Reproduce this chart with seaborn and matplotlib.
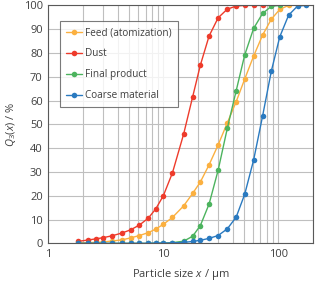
import numpy as np
import pandas as pd
import matplotlib
matplotlib.use("Agg")
import matplotlib.pyplot as plt
import seaborn as sns
from matplotlib.ticker import LogLocator, FixedLocator, NullFormatter

# --- DATA ---
sizes = [1.8, 2.2, 2.6, 3.0, 3.6, 4.4, 5.2, 6.2, 7.4, 8.6, 10, 12, 15, 18, 21,
         25, 30, 36, 43, 51, 61, 73, 87, 103, 123, 147, 175]

feed = [0.2, 0.3, 0.4, 0.6, 1.0, 1.5, 2.3, 3.3, 4.5, 6.0, 8.0, 10.9, 15.7, 21.0,
        25.8, 33.0, 41.4, 50.6, 59.5, 69.0, 78.7, 87.5, 94.2, 98.3, 100.0]
dust = [0.8, 1.4, 1.9, 2.4, 3.2, 4.4, 5.7, 7.7, 10.6, 14.5, 20.0, 29.6, 45.8,
        61.6, 74.9, 87.1, 94.8, 98.4, 99.7, 100.0, 100.0, 100.0, 100.0]
final = [0.0, 0.0, 0.0, 0.0, 0.0, 0.0, 0.0, 0.0, 0.0, 0.1, 0.1, 0.3, 0.9, 3.0,
         7.5, 16.5, 30.8, 48.3, 64.1, 79.1, 90.3, 96.6, 99.6, 100.0]
coarse = [0.0, 0.0, 0.0, 0.0, 0.0, 0.0, 0.0, 0.0, 0.0, 0.1, 0.1, 0.2, 0.4, 0.8,
          1.3, 2.1, 3.3, 6.1, 11.0, 20.6, 35.0, 53.5, 72.4, 86.8, 95.9, 99.7, 100.0]

series_names = ["Feed (atomization)", "Dust", "Final product", "Coarse material"]
series_values = [feed, dust, final, coarse]
colors = ["#FBB040", "#EE3B2B", "#4CB35E", "#2A7AC0"]

y_ticks = list(range(0, 101, 10))
x_ticks = [1, 10, 100]

# long-form table for seaborn
frames = []
for name, vals in zip(series_names, series_values):
    frames.append(pd.DataFrame({"size": sizes[:len(vals)], "Q3": vals, "series": name}))
df = pd.concat(frames, ignore_index=True)

sns.set_style("white")
plt.rcParams["font.family"] = ["Open Sans", "DejaVu Sans"]
plt.rcParams["mathtext.fontset"] = "custom"
plt.rcParams["mathtext.rm"] = "Open Sans"
plt.rcParams["mathtext.it"] = "Open Sans:italic"

fig = plt.figure(figsize=(3.18, 2.82), dpi=100)
ax = fig.add_axes([0.152, 0.137, 0.832, 0.844])

sns.lineplot(data=df, x="size", y="Q3", hue="series", hue_order=series_names,
             palette=colors, marker="o", markersize=4, markeredgewidth=0,
             linewidth=1.0, ax=ax, sort=False)

ax.set_xscale("log")
ax.set_xlim(1, 200)
ax.set_ylim(0, 100)
ax.set_yticks(y_ticks)
ax.xaxis.set_major_locator(FixedLocator(x_ticks))
ax.set_xticklabels([str(t) for t in x_ticks])
ax.xaxis.set_minor_locator(LogLocator(base=10, subs=np.arange(2, 10)))
ax.xaxis.set_minor_formatter(NullFormatter())

grid_col = "#BFBFBF"
ax.grid(True, which="major", axis="both", color=grid_col, linewidth=0.8)
ax.grid(True, which="minor", axis="x", color=grid_col, linewidth=0.8)
ax.set_axisbelow(True)

for s in ax.spines.values():
    s.set_color("#595959")
    s.set_linewidth(0.8)

ax.tick_params(axis="both", which="both", length=0, labelsize=8,
               labelcolor="#404040", pad=4)

ax.set_xlabel("Particle size $x$ / µm", fontsize=8, color="#404040", labelpad=5)
ax.set_ylabel("$Q_3(x)$ / %", fontsize=8, color="#404040", labelpad=4)

leg = ax.legend(loc="upper left", bbox_to_anchor=(0.044, 0.934), fontsize=7.2,
                frameon=True, fancybox=False, handlelength=1.6, handletextpad=0.3,
                labelspacing=1.0, borderpad=0.6, borderaxespad=0, title=None)
leg.get_frame().set_edgecolor("#595959")
leg.get_frame().set_linewidth(0.8)
for t in leg.get_texts():
    t.set_color("#404040")

fig.savefig("out.png", dpi=100)
